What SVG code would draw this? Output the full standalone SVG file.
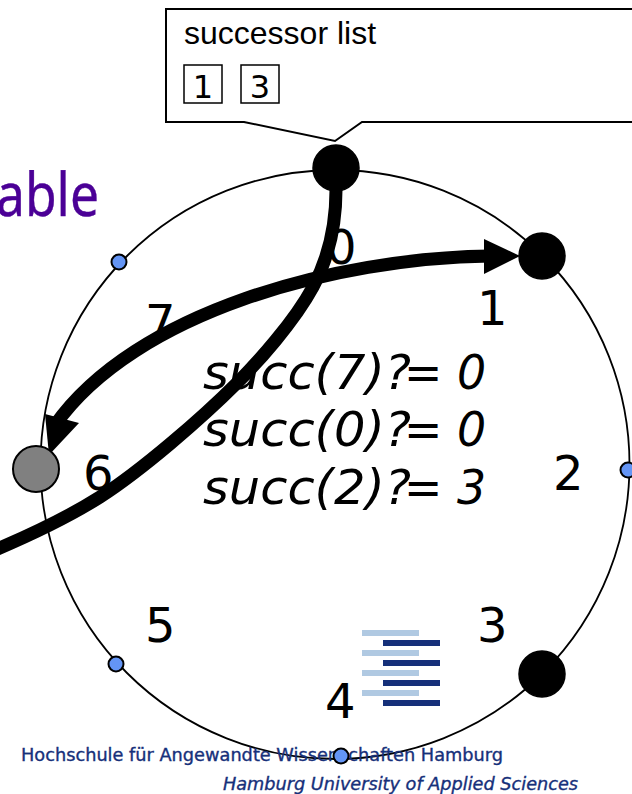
<svg xmlns="http://www.w3.org/2000/svg" width="632" height="794" viewBox="0 0 632 794">
<style>
.n{font-family:"DejaVu Sans",sans-serif;font-size:48px;fill:#000}
.q{font-family:"DejaVu Sans",sans-serif;font-size:48px;font-style:italic;fill:#000}
.big{fill:#000;stroke:#000;stroke-width:1.5}
.small{fill:#6495f5;stroke:#000;stroke-width:2}
.light{fill:#b0c9e2}
.dark{fill:#16307a}
.box{fill:#fff;stroke:#000;stroke-width:1.5}
.c{fill:none;stroke:#000;stroke-width:13}
.arr{fill:#000}
.l{font-family:"Liberation Sans",sans-serif;fill:#000}
.h{font-family:"DejaVu Sans",sans-serif;font-size:17px;fill:#16307a;stroke:#16307a;stroke-width:.35}
</style>
<defs>
<clipPath id="qclip">
<rect x="190" y="351" width="310" height="46"/>
<rect x="190" y="408" width="310" height="46"/>
<rect x="190" y="466" width="310" height="46"/>
</clipPath>
</defs>
<rect width="632" height="794" fill="#fff"/>
<text x="-4" y="216" font-family="'Noto Sans',sans-serif" font-size="60" fill="#4b0096" stroke="#4b0096" stroke-width=".4" textLength="103" lengthAdjust="spacingAndGlyphs">able</text>
<circle id="ring" cx="335" cy="464.5" r="294.5" fill="none" stroke="#000" stroke-width="1.8"/>
<g id="labels">
<text class="n" x="326" y="264">0</text>
<text class="n" x="477" y="325">1</text>
<text class="n" x="553" y="490">2</text>
<text class="n" x="477" y="642">3</text>
<text class="n" x="325" y="718">4</text>
<text class="n" x="145" y="642">5</text>
<text class="n" x="83" y="490">6</text>
<text class="n" x="145" y="339">7</text>
</g>
<g id="logo">
<rect class="light" x="362" y="630" width="57" height="6"/>
<rect class="dark" x="383" y="640" width="57" height="6"/>
<rect class="light" x="362" y="650" width="57" height="6"/>
<rect class="dark" x="383" y="660" width="57" height="6"/>
<rect class="light" x="362" y="670" width="57" height="6"/>
<rect class="dark" x="383" y="680" width="57" height="6"/>
<rect class="light" x="362" y="690" width="57" height="6"/>
<rect class="dark" x="383" y="700" width="57" height="6"/>
<text class="h" x="21" y="761" textLength="482" lengthAdjust="spacingAndGlyphs">Hochschule für Angewandte Wissenschaften Hamburg</text>
<text class="h" x="223" y="790" font-style="italic" textLength="355" lengthAdjust="spacingAndGlyphs">Hamburg University of Applied Sciences</text>
</g>
<g id="queries" clip-path="url(#qclip)">
<text class="q" x="203" y="389" textLength="208" lengthAdjust="spacingAndGlyphs">succ(7)?</text>
<text class="q" x="203" y="446" textLength="208" lengthAdjust="spacingAndGlyphs">succ(0)?</text>
<text class="q" x="203" y="504" textLength="208" lengthAdjust="spacingAndGlyphs">succ(2)?</text>
<text class="q" x="404" y="389" textLength="82" lengthAdjust="spacingAndGlyphs">= 0</text>
<text class="q" x="404" y="446" textLength="82" lengthAdjust="spacingAndGlyphs">= 0</text>
<text class="q" x="404" y="504" textLength="82" lengthAdjust="spacingAndGlyphs">= 3</text>
</g>
<g id="connectors">
<path class="c" d="M336 190C336 225 329 257 313 287C294 322 258 362 237 383C202 418 142 470 100 497C70 516 35 533 -5 550"/>
<path class="c" d="M490 256C335 258 135 312 55 425"/>
<path class="arr" d="M484 239L520 256L484 274Z"/>
<path class="arr" d="M45 414L79 423L49 455Z"/>
</g>
<g id="callout">
<path d="M166 9H633V122H362L335 141L244 122H166Z" fill="#fff" stroke="#000" stroke-width="2"/>
<text class="l" x="184" y="44" font-size="32">successor list</text>
<rect class="box" x="184" y="65" width="38" height="38"/>
<rect class="box" x="241" y="65" width="38" height="38"/>
<text x="203" y="98" text-anchor="middle" font-family="'DejaVu Sans',sans-serif" font-size="32">1</text>
<text x="260" y="98" text-anchor="middle" font-family="'DejaVu Sans',sans-serif" font-size="32">3</text>
</g>
<g id="node0"><circle class="big" cx="336" cy="168" r="23"/></g>
<g id="node1"><circle class="big" cx="542" cy="256" r="23"/></g>
<g id="node2"><circle class="small" cx="628" cy="470" r="7.5"/></g>
<g id="node3"><circle class="big" cx="542" cy="674" r="23"/></g>
<g id="node4"><circle class="small" cx="341" cy="756" r="7.5"/></g>
<g id="node5"><circle class="small" cx="116" cy="664" r="7.5"/></g>
<g id="node6"><circle cx="36" cy="469" r="23" fill="#808080" stroke="#000" stroke-width="2"/></g>
<g id="node7"><circle class="small" cx="119" cy="262" r="7.5"/></g>
</svg>
